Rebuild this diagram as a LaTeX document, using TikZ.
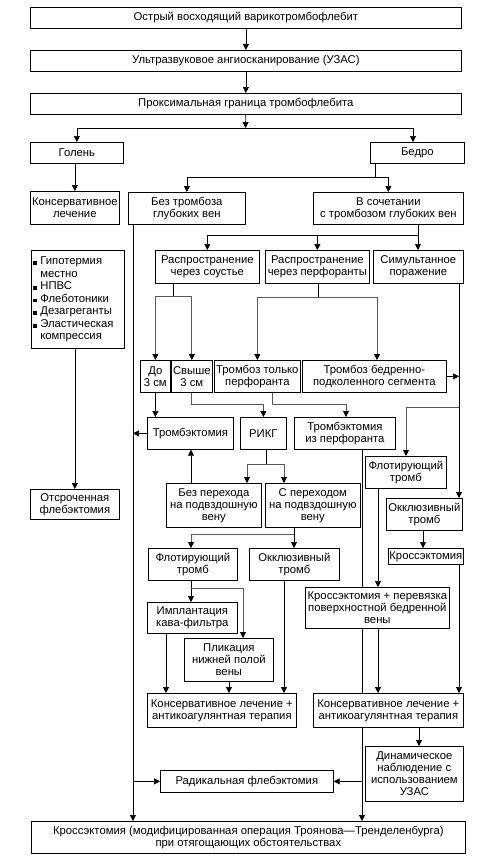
\documentclass[tikz,border=0pt]{standalone}
\usepackage{fontspec}
\setmainfont{Liberation Sans}
\usetikzlibrary{arrows.meta}
\tikzset{blk/.style={draw, fill=white, align=center, anchor=north west,
    inner sep=1pt, font=\fontsize{11.3}{12}\selectfont, line width=0.7pt},
  gl/.style={draw=black!65, line width=0.8pt, -{Triangle[length=6pt,width=6pt,color=black]}}}
\newcommand\bul{\makebox[7pt][l]{\rule{3.6pt}{3.6pt}}}
\newcommand\nob{\hspace*{7pt}}

\begin{document}
\begin{tikzpicture}[x=1pt, y=-1pt, >={Triangle[length=6pt,width=6pt]}, line width=0.7pt]
  \useasboundingbox (0,0) rectangle (503,859);

  % top chain
  \node[blk, minimum width=431pt, minimum height=21pt] (ost) at (30,7)
    {Острый восходящий варикотромбофлебит};
  \node[blk, minimum width=431pt, minimum height=21pt] (uzas) at (30,50)
    {Ультразвуковое ангиосканирование (УЗАС)};
  \node[blk, minimum width=431pt, minimum height=21pt] (prox) at (30,93)
    {Проксимальная граница тромбофлебита};
  \node[blk, minimum width=93pt, minimum height=21pt] (golen) at (30,142) {Голень};
  \node[blk, minimum width=94pt, minimum height=21pt] (bedro) at (370,142) {Бедро};

  % left column
  \node[blk, minimum width=89pt, minimum height=33pt] (konsl) at (30,191)
    {Консервативное\\лечение};
  \node[blk, minimum width=93pt, minimum height=98pt, text width=89pt, inner xsep=2pt, align=left] (bull) at (31,250)
    {\fontsize{11.3}{12.6}\selectfont\bul Гипотермия\\\nob местно\\\bul НПВС\\\bul Флеботоники\\
     \bul Дезагреганты\\\bul Эластическая\\\nob компрессия};
  \node[blk, minimum width=89pt, minimum height=30pt] (otsr) at (30,489)
    {Отсроченная\\флебэктомия};

  % thigh
  \node[blk, minimum width=117pt, minimum height=32pt] (bezt) at (128,192)
    {Без тромбоза\\глубоких вен};
  \node[blk, minimum width=150pt, minimum height=32pt] (vsoch) at (313,192)
    {В сочетании\\с тромбозом глубоких вен};
  \node[blk, minimum width=104pt, minimum height=33pt] (rsous) at (155,250)
    {Распространение\\через соустье};
  \node[blk, minimum width=104pt, minimum height=33pt] (rperf) at (265,250)
    {Распространение\\через перфоранты};
  \node[blk, minimum width=90pt, minimum height=33pt] (sim) at (373,250)
    {Симультанное\\поражение};

  \node[blk, minimum width=30pt, minimum height=32pt] (do3) at (140,360) {До\\3 см};
  \node[blk, minimum width=41pt, minimum height=32pt] (sv3) at (171,360) {Свыше\\3 см};
  \node[blk, minimum width=86pt, minimum height=32pt] (ttp) at (214,360)
    {Тромбоз только\\перфоранта};
  \node[blk, minimum width=144pt, minimum height=32pt] (tbp) at (302,360)
    {Тромбоз бедренно-\\подколенного сегмента};

  \node[blk, minimum width=86pt, minimum height=32pt] (tre) at (147,417) {Тромбэктомия};
  \node[blk, minimum width=46pt, minimum height=32pt] (rikg) at (240,417) {РИКГ};
  \node[blk, minimum width=101pt, minimum height=32pt] (tep) at (294,417)
    {Тромбэктомия\\из перфоранта};

  \node[blk, minimum width=95pt, minimum height=44pt] (bper) at (166,483)
    {Без перехода\\на подвздошную\\вену};
  \node[blk, minimum width=95pt, minimum height=44pt] (sper) at (265,483)
    {С переходом\\на подвздошную\\вену};

  \node[blk, minimum width=81pt, minimum height=32pt] (flot2) at (365,456)
    {Флотирующий\\тромб};
  \node[blk, minimum width=76pt, minimum height=32pt] (okl2) at (386,498)
    {Окклюзивный\\тромб};
  \node[blk, minimum width=75pt, minimum height=16pt] (kr) at (388,548) {Кроссэктомия};
  \node[blk, minimum width=144pt, minimum height=41pt] (kp) at (305,587)
    {Кроссэктомия + перевязка\\поверхностной бедренной\\вены};

  \node[blk, minimum width=89pt, minimum height=32pt] (flot1) at (148,548)
    {Флотирующий\\тромб};
  \node[blk, minimum width=90pt, minimum height=32pt] (okl1) at (249,548)
    {Окклюзивный\\тромб};
  \node[blk, minimum width=90pt, minimum height=31pt] (impl) at (147,602)
    {Имплантация\\кава-фильтра};
  \node[blk, minimum width=89pt, minimum height=43pt] (plik) at (184,638)
    {Пликация\\нижней полой\\вены};

  \node[blk, minimum width=149pt, minimum height=34pt] (kons1) at (147,693)
    {Консервативное лечение +\\антикоагулянтная терапия};
  \node[blk, minimum width=150pt, minimum height=34pt] (kons2) at (313,693)
    {Консервативное лечение +\\антикоагулянтная терапия};
  \node[blk, minimum width=98pt, minimum height=55pt] (dyn) at (365,746)
    {\fontsize{11.3}{13}\selectfont Динамическое\\наблюдение с\\использованием\\УЗАС};
  \node[blk, minimum width=173pt, minimum height=22pt] (rad) at (160,770)
    {Радикальная флебэктомия};
  \node[blk, minimum width=434pt, minimum height=32pt] (bot) at (31,821)
    {Кроссэктомия (модифицированная операция Троянова---Тренделенбурга)\\
     при отягощающих обстоятельствах};

  \coordinate (bus1) at (245.5,128);
  \coordinate (bus2) at (375,177);
  \coordinate (bus3) at (418,235);
  \coordinate (bus4) at (173,296);
  \coordinate (bus5) at (318,297);
  \coordinate (bus6) at (266,464);
  \coordinate (bus7) at (294,534);
  \coordinate (rj) at (459,407);
  \coordinate (pj) at (191,588);

  \draw[->] (ost) -- (uzas);
  \draw[->] (uzas) -- (prox);
  \draw[->] (prox) -- (bus1);
  \draw[->] (bus1) -| (golen);
  \draw[->] (bus1) -| (bedro.north -| 413,0);

  \draw[->] (golen.south -| konsl) -- (konsl);
  \draw[->] (bull.south -| otsr) -- (otsr);

  \draw (bedro.south -| bus2) -- (bus2);
  \draw[->] (bus2) -| (bezt);
  \draw[->] (bus2) -| (vsoch);

  \draw (vsoch.south -| bus3) -- (bus3);
  \draw[->] (bus3) -| (rsous);
  \draw[->] (bus3) -| (rperf);
  \draw[->] (bus3) -- (sim.north -| bus3);

  \draw (rsous.south -| bus4) -- (bus4);
  \draw[gl] (bus4) -| (do3);
  \draw[gl] (bus4) -| (sv3);
  \draw (rperf.south -| bus5) -- (bus5);
  \draw[gl] (bus5) -| (ttp);
  \draw[gl] (bus5) -| (tbp.north -| 377,0);

  \draw[->] (do3.south) -- (do3.south |- tre.north);
  \draw[gl] (sv3.south) -- ++(0,12) -| (rikg);
  \draw[gl] (ttp.south -| 272,0) -- ++(0,12) -| (tep.north -| 346,0);
  \draw[->] (tre.west) -- (tre.west -| 133,0);

  % right column
  \draw[->] (sim.south -| 459,0) -- (okl2.north -| 459,0);
  \draw[->] (tbp.east) -- (tbp.east -| 459,0);
  \draw[gl] (rj) -| (flot2.north -| 406,0);
  \draw[->] (flot2.south -| 378,0) -- (kp.north -| 378,0);
  \draw[->] (okl2.south -| 423,0) -- (kr.north -| 423,0);
  \draw[->] (kr.south -| 459,0) -- (kons2.north -| 459,0);
  \draw[->] (kp.south -| 378,0) -- (kons2.north -| 378,0);
  \draw[->] (kons2.south -| 419,0) -- (dyn.north -| 419,0);

  % RIKG
  \draw (rikg.south -| bus6) -- (bus6);
  \draw[gl] (bus6) -| (bper.north -| 247,0);
  \draw[gl] (bus6) -| (sper.north -| 284,0);
  \draw[->] (bper.north -| 191,0) -- (tre.south -| 191,0);

  \draw (sper.south -| bus7) -- (bus7);
  \draw[gl] (bus7) -| (flot1.north -| 191,0);
  \draw[->] (bus7) -- (okl1.north -| bus7);
  \draw[->] (flot1.south -| 191,0) -- (impl.north -| 191,0);
  \draw[gl] (pj) -| (plik.north -| 243,0);
  \draw[->] (impl.south -| 166,0) -- (kons1.north -| 166,0);
  \draw[->] (plik.south -| 229,0) -- (kons1.north -| 229,0);
  \draw[->] (okl1.south -| 284,0) -- (kons1.north -| 284,0);

  % long lines
  \draw (tep.south -| 362,0) -- (kp.north -| 362,0);
  \draw (kp.south -| 362,0) -- (kons2.north -| 362,0);
  \draw[->] (kons2.south -| 362,0) -- (bot.north -| 362,0);
  \draw[->] (rad.east -| 362,0) -- (rad.east);
  \draw[->] (bezt.south -| 133,0) -- (bot.north -| 133,0);
  \draw[->] (rad.west -| 133,0) -- (rad.west);
\end{tikzpicture}
\end{document}
